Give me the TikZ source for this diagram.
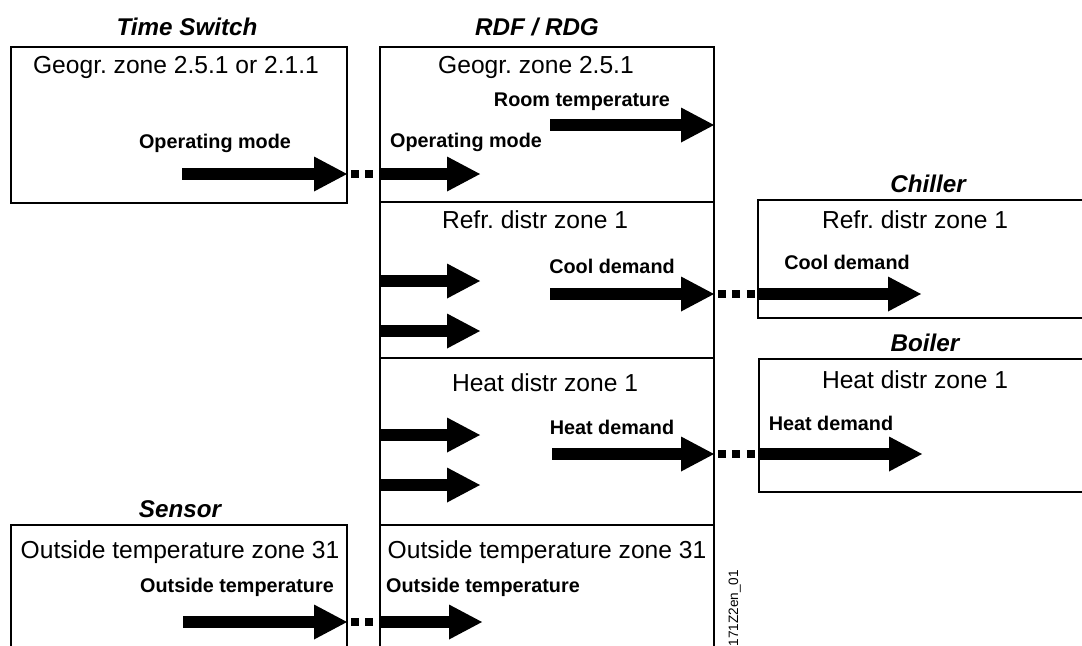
\documentclass[tikz,border=0pt]{standalone}
\usepackage{fontspec}
\setmainfont{Liberation Sans}
\usetikzlibrary{arrows.meta}
\tikzset{
  blk/.style={draw,line width=1.4pt,outer sep=0pt,inner sep=0pt,anchor=north west},
  ttl/.style={font=\fontsize{12.1}{14}\selectfont\bfseries\itshape},
  zone/.style={font=\fontsize{12.3}{14}\selectfont},
  lbl/.style={font=\fontsize{9.9}{12}\selectfont\bfseries},
  arr/.style={line width=6pt,-{Triangle[length=16.5pt,width=17.5pt,line width=0pt]}},
  link/.style={line width=4pt,dash pattern=on 4pt off 3.2pt,dash phase=5.2pt},
}

\begin{document}
\frenchspacing
\begin{tikzpicture}[x=0.5pt,y=-0.5pt]
\useasboundingbox (0,0) rectangle (1082,645);
\clip (0,0) rectangle (1082,645);
% devices
\node[blk,minimum width=168pt,minimum height=78pt] (ts) at (11,47) {};
\node[blk,minimum width=167pt,minimum height=330pt] (rdf) at (380,47) {};
\node[blk,minimum width=168pt,minimum height=100pt] (sen) at (11,525) {};
\node[blk,minimum width=190pt,minimum height=59pt] (chl) at (758,200) {};
\node[blk,minimum width=190pt,minimum height=66.5pt] (blr) at (759,359) {};
\foreach \y in {202,358,525} \draw[line width=1.4pt] (rdf.west |- 0,\y) -- (rdf.east |- 0,\y);
% titles
\node[ttl] (tst) at (187,27) {Time Switch};
\node[ttl] (rdft) at (537,27) {RDF / RDG};
\node[ttl] (chlt) at (928,184) {Chiller};
\node[ttl] (blrt) at (925,343) {Boiler};
\node[ttl] (sent) at (180,509) {Sensor};
% zones
\node[zone] (tsz) at (176,67) {Geogr. zone 2.5.1 or 2.1.1};
\node[zone] (rdfz1) at (536,67) {Geogr. zone 2.5.1};
\node[zone] (rdfz2) at (535,220) {Refr. distr zone 1};
\node[zone] (rdfz3) at (545,383) {Heat distr zone 1};
\node[zone] (rdfz4) at (547,552) {Outside temperature zone 31};
\node[zone] (chlz) at (915,220) {Refr. distr zone 1};
\node[zone] (blrz) at (915,380) {Heat distr zone 1};
\node[zone] (senz) at (180,552) {Outside temperature zone 31};
% data points
\node[lbl] (tsop) at (215,143) {Operating mode};
\node[lbl] (rdfop) at (466,142) {Operating mode};
\node[lbl] (rdfrt) at (582,102) {Room temperature};
\node[lbl] (rdfcd) at (612,266) {Cool demand};
\node[lbl] (rdfhd) at (612,427) {Heat demand};
\node[lbl] (chlcd) at (847,262) {Cool demand};
\node[lbl] (blrhd) at (831,423) {Heat demand};
\node[lbl] (senot) at (237,587) {Outside temperature};
\node[lbl] (rdfot) at (483,587) {Outside temperature};
% flows
\coordinate (om) at (182,174);
\coordinate (cd) at (550,294);
\coordinate (hd) at (552,454);
\coordinate (ot) at (183,622);
\draw[arr] (om) -- (om -| ts.east);
\draw[link] (om -| ts.east) -- (om -| rdf.west);
\draw[arr] (om -| rdf.west) -- (480,174);
\draw[arr] (550,125) -- (rdf.east |- 0,125);
\foreach \y in {281,331,435,485} \draw[arr] (rdf.west |- 0,\y) -- (480,\y);
\draw[arr] (cd) -- (cd -| rdf.east);
\draw[link] (cd -| rdf.east) -- (cd -| chl.west);
\draw[arr] (cd -| chl.west) -- (921,294);
\draw[arr] (hd) -- (hd -| rdf.east);
\draw[link] (hd -| rdf.east) -- (hd -| blr.west);
\draw[arr] (hd -| blr.west) -- (922,454);
\draw[arr] (ot) -- (ot -| sen.east);
\draw[link] (ot -| sen.east) -- (ot -| rdf.west);
\draw[arr] (ot -| rdf.west) -- (482,622);
\node[font=\fontsize{6.8}{8}\selectfont,rotate=90,anchor=base east] (docid) at (738,563) {5171Z2en\_01};
\end{tikzpicture}
\end{document}
